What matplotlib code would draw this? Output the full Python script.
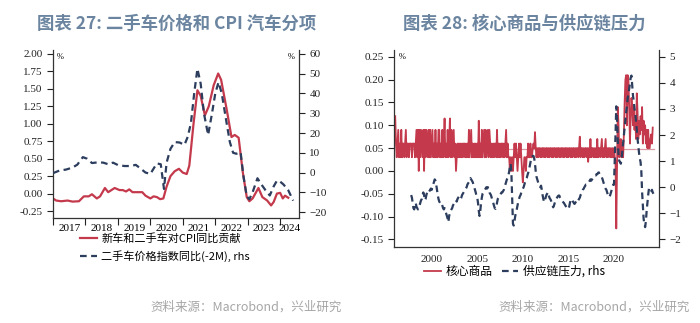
import numpy as np
import matplotlib
matplotlib.use('Agg')
import matplotlib.pyplot as plt
from matplotlib.ticker import FixedLocator, FixedFormatter, NullFormatter, FormatStrFormatter

# ---------------- chart 27 data ----------------
car_dates = [2017.0, 2017.1, 2017.25, 2017.45, 2017.6, 2017.8, 2017.95, 2018.1, 2018.2, 2018.35,
             2018.45, 2018.6, 2018.7, 2018.9, 2019.05, 2019.15, 2019.25, 2019.35, 2019.45, 2019.6,
             2019.75, 2019.85, 2020.0, 2020.1, 2020.2, 2020.3, 2020.4, 2020.5, 2020.62, 2020.75,
             2020.88, 2021.0, 2021.12, 2021.2, 2021.33, 2021.45, 2021.55, 2021.68, 2021.8, 2021.95,
             2022.09, 2022.18, 2022.35, 2022.5, 2022.6, 2022.72, 2022.85, 2022.97, 2023.05, 2023.15,
             2023.33, 2023.45, 2023.6, 2023.72, 2023.8, 2023.9, 2024.0, 2024.08, 2024.15, 2024.25]
car_cpi = [-0.07, -0.10, -0.11, -0.10, -0.115, -0.11, -0.04, -0.04, -0.01, -0.07,
           -0.04, 0.08, 0.02, 0.08, 0.05, 0.05, 0.03, 0.06, 0.02, 0.02,
           0.02, -0.03, -0.07, -0.04, -0.05, -0.08, -0.07, 0.10, 0.25, 0.32,
           0.355, 0.30, 0.28, 0.40, 1.00, 1.48, 1.40, 1.12, 1.25, 1.55,
           1.72, 1.63, 1.21, 0.81, 0.84, 0.80, 0.30, -0.05, -0.11, -0.07,
           0.08, -0.05, -0.10, -0.17, -0.12, 0.0, 0.01, -0.07, -0.03, -0.06]

used_dates = [2017.0, 2017.2, 2017.4, 2017.6, 2017.75, 2017.92, 2018.05, 2018.2, 2018.4, 2018.55,
              2018.7, 2018.85, 2019.0, 2019.2, 2019.4, 2019.55, 2019.7, 2019.85, 2020.0, 2020.1,
              2020.2, 2020.32, 2020.42, 2020.5, 2020.62, 2020.75, 2020.9, 2021.05, 2021.15, 2021.25,
              2021.35, 2021.45, 2021.55, 2021.65, 2021.78, 2021.9, 2022.0, 2022.1, 2022.2, 2022.35,
              2022.45, 2022.55, 2022.65, 2022.78, 2022.87, 2022.97, 2023.05, 2023.15, 2023.3, 2023.42,
              2023.55, 2023.68, 2023.8, 2023.9, 2024.0, 2024.1, 2024.25, 2024.4]
used_price = [-0.3, 1.0, 1.5, 2.5, 4.0, 7.8, 7.0, 4.8, 5.2, 5.0,
              4.2, 5.0, 3.8, 3.3, 3.3, 3.9, 2.0, 0.0, -0.7, 2.0,
              4.6, 4.2, -8.3, 5.0, 12.0, 15.4, 15.2, 14.0, 18.0, 25.0,
              40.0, 52.5, 45.0, 30.0, 19.0, 30.0, 40.0, 45.7, 40.0, 25.0,
              15.4, 10.0, 9.5, 10.3, -2.0, -12.0, -13.5, -10.0, -2.9, -6.0,
              -9.0, -11.6, -7.0, -4.1, -4.6, -6.0, -9.0, -14.2]

years_27 = [2017, 2018, 2019, 2020, 2021, 2022, 2023, 2024]

# ---------------- chart 28 data ----------------
core_start = 1996.0
core_goods = [
    0.12, 0.06, 0.03, 0.06, 0.09, 0.03, 0.06, 0.03, 0.09, 0.03, 0.06, 0.06,
    0.03, 0.06, 0.09, 0.03, 0.06, 0.06, 0.03, 0.06, 0.06, 0.06, 0.03, 0.06,
    0.06, 0.06, 0.03, 0.06, 0.09, 0.03, 0.09, 0.00, 0.09, 0.03, 0.09, 0.06,
    0.03, 0.09, 0.00, 0.09, 0.03, 0.09, 0.06, 0.03, 0.09, 0.03, 0.09, 0.03,
    0.06, 0.09, 0.03, 0.06, 0.03, 0.09, 0.03, 0.06, 0.03, 0.09, 0.09, 0.03,
    0.06, 0.03, 0.09, 0.03, 0.06, 0.115, 0.03, 0.06, 0.03, 0.09, 0.03, 0.06,
    0.115, 0.03, 0.09, 0.03, 0.06, 0.09, 0.03, 0.06, 0.00, 0.03, 0.06, 0.03,
    0.06, 0.03, 0.06, 0.03, 0.06, 0.03, 0.06, 0.06, 0.03, 0.06, 0.03, 0.06,
    0.03, 0.09, 0.03, 0.06, 0.09, 0.03, 0.06, 0.03, 0.06, 0.03, 0.06, 0.03,
    0.06, 0.03, 0.11, 0.03, 0.06, 0.03, 0.09, 0.03, 0.06, 0.09, 0.03, 0.09,
    0.03, 0.06, 0.09, 0.03, 0.09, 0.06, 0.03, 0.06, 0.03, 0.06, 0.03, 0.06,
    0.06, 0.03, 0.09, 0.03, 0.06, 0.03, 0.06, 0.03, 0.06, 0.06, 0.03, 0.06,
    0.03, 0.06, 0.09, 0.03, 0.06, 0.03, 0.03, 0.00, 0.03, 0.00, 0.03, 0.00,
    0.03, 0.06, 0.03, 0.06, 0.03, 0.00, 0.03, 0.06, 0.03, 0.06, 0.03, 0.00,
    -0.025, 0.00, 0.03, 0.03, 0.00, 0.03, 0.03, 0.06, 0.03, 0.03, 0.06, 0.03,
    0.03, 0.05, 0.06, 0.05, 0.085, 0.05, 0.03, 0.05, 0.03, 0.05, 0.05, 0.03,
    0.05, 0.03, 0.05, 0.05, 0.03, 0.05, 0.03, 0.05, 0.05, 0.03, 0.05, 0.03,
    0.05, 0.05, 0.03, 0.05, 0.03, 0.05, 0.05, 0.03, 0.05, 0.03, 0.05, 0.05,
    0.03, 0.05, 0.03, 0.05, 0.05, 0.03, 0.05, 0.03, 0.05, 0.05, 0.03, 0.05,
    0.03, 0.05, 0.05, 0.03, 0.05, 0.03, 0.05, 0.05, 0.03, 0.05, 0.03, 0.05,
    0.05, 0.03, 0.05, 0.075, 0.03, 0.05, 0.05, 0.03, 0.05, 0.03, 0.05, 0.05,
    0.03, 0.05, 0.02, 0.05, 0.03, 0.07, 0.03, 0.05, 0.05, 0.03, 0.05, 0.03,
    0.05, 0.03, 0.07, 0.03, 0.05, 0.05, 0.03, 0.05, 0.07, 0.03, 0.05, 0.03,
    0.05, 0.07, 0.03, 0.05, 0.03, 0.05, 0.05, 0.03, 0.05, 0.03, 0.05, 0.03,
    0.05, 0.03, 0.02, -0.126, 0.00, 0.14, 0.10, 0.03, 0.06, 0.07, 0.03, 0.06,
    0.03, 0.08, 0.15, 0.20, 0.21, 0.10, 0.21, 0.20, 0.14, 0.06, 0.12, 0.16,
    0.14, 0.10, 0.14, 0.09, 0.12, 0.07, 0.17, 0.13, 0.07, 0.11, 0.08, 0.12,
    0.09, 0.14, 0.06, 0.11, 0.08, 0.10, 0.06, 0.09, 0.05, 0.09, 0.05, 0.05,
    0.07, 0.08, 0.06, 0.095]
core_avg = 0.048

gscpi_start = 1997.75
gscpi = [
    -0.3, -0.4, -0.6,
    -0.8, -0.85, -0.7, -0.6, -0.75, -0.8, -0.85, -0.8, -0.7, -0.6, -0.5, -0.45,
    -0.3, -0.2, -0.3, -0.5, -0.45, -0.3, -0.2, -0.25, -0.2, -0.15, -0.1, -0.05,
    -0.1, 0.0, 0.1, 0.2, 0.3, 0.25, 0.1, -0.1, -0.3, -0.45, -0.55, -0.6,
    -0.57, -0.6, -0.7, -0.8, -0.85, -0.8, -0.9, -1.0, -1.1, -1.2, -1.34, -1.1,
    -1.0, -0.9, -0.85, -0.8, -0.7, -0.65, -0.6, -0.55, -0.5, -0.55, -0.45, -0.4,
    -0.35, -0.4, -0.45, -0.4, -0.3, -0.25, -0.2, -0.15, -0.1, -0.05, 0.0, 0.1,
    0.15, 0.2, 0.3, 0.35, 0.3, 0.25, 0.2, 0.1, 0.0, -0.1, -0.2, -0.35,
    -0.4, -0.6, -0.9, -1.1, -0.9, -0.6, -0.4, -0.25, -0.2, -0.15, -0.1, -0.05,
    0.0, -0.05, 0.0, -0.1, -0.2, -0.25, -0.3, -0.4, -0.5, -0.6, -0.7, -0.8,
    -0.83, -0.75, -0.6, -0.45, -0.4, -0.35, -0.3, -0.25, -0.2, -0.2, -0.15, -0.1,
    0.0, 0.1, 0.2, 0.3, 0.35, 0.45, 0.6, 0.8, 0.9, 0.5, -0.5, -1.4,
    -1.47, -1.3, -1.1, -0.96, -0.85, -0.7, -0.55, -0.45, -0.35, -0.3, -0.2, -0.1,
    -0.06, 0.0, 0.1, 0.2, 0.3, 0.35, 0.45, 0.55, 0.65, 0.8, 0.95, 1.1,
    1.15, 1.2, 1.2, 1.1, 0.9, 0.6, 0.4, 0.3, 0.2, 0.1, 0.06, 0.0,
    0.06, -0.1, -0.3, -0.45, -0.57, -0.5, -0.4, -0.3, -0.25, -0.19, -0.3, -0.4,
    -0.45, -0.5, -0.6, -0.7, -0.77, -0.7, -0.6, -0.5, -0.45, -0.4, -0.35, -0.32,
    -0.32, -0.4, -0.45, -0.5, -0.55, -0.57, -0.6, -0.65, -0.7, -0.75, -0.8, -0.83,
    -0.83, -0.75, -0.6, -0.5, -0.45, -0.5, -0.55, -0.6, -0.64, -0.6, -0.55, -0.5,
    -0.45, -0.5, -0.45, -0.4, -0.3, -0.25, -0.2, -0.1, -0.06, 0.0, 0.05, 0.1,
    0.1, 0.15, 0.19, 0.2, 0.25, 0.3, 0.25, 0.3, 0.32, 0.35, 0.4, 0.45,
    0.45, 0.5, 0.5, 0.55, 0.57, 0.5, 0.45, 0.4, 0.38, 0.3, 0.2, 0.1,
    0.0, -0.06, -0.1, -0.2, -0.3, -0.35, -0.38, -0.3, -0.2, -0.1, 0.0, 0.1,
    0.1, 1.0, 2.0, 3.1, 2.6, 1.8, 1.2, 1.0, 0.97, 0.9, 1.1, 1.4,
    1.72, 2.0, 2.3, 2.6, 2.87, 3.1, 3.4, 3.6, 3.77, 4.0, 4.2, 4.28,
    3.9, 3.51, 3.3, 3.0, 2.87, 2.5, 2.2, 1.85, 1.6, 1.3, 1.1, 0.96,
    0.6, -0.19, -0.7, -1.21, -1.4, -1.53, -1.3, -0.9, -0.6, -0.3, -0.06, -0.1,
    -0.19, -0.15, -0.1, -0.2, -0.25]

years_28 = [2000, 2005, 2010, 2015, 2020]

# ---------------- style ----------------
RED = '#c43a4c'
NAVY = '#2c3d5e'
AXC = '#333333'
TITLE_C = '#6b85a0'
CJK = ['Noto Sans CJK SC', 'DejaVu Sans']
plt.rcParams['font.family'] = ['Liberation Serif', 'Noto Sans CJK SC']
plt.rcParams['font.size'] = 8
DASH = (0, (3, 2))

W, H = 700, 323
fig = plt.figure(figsize=(7, 3.23), dpi=100)


def box(x0, y0, x1, y1):
    return [x0 / W, 1 - y1 / H, (x1 - x0) / W, (y1 - y0) / H]


def style_axes(ax, axr):
    for a in (ax, axr):
        a.spines['top'].set_visible(False)
        for s in ('left', 'right', 'bottom'):
            a.spines[s].set_color(AXC)
            a.spines[s].set_linewidth(0.9)
        a.tick_params(colors='#222222', labelsize=8, width=0.8, length=4)
    ax.spines['right'].set_visible(False)
    axr.spines['left'].set_visible(False)
    axr.spines['bottom'].set_visible(False)


# ---------------- chart 27 ----------------
ax1 = fig.add_axes(box(53, 50, 299, 218))
ax1r = ax1.twinx()
l1, = ax1.plot(car_dates, car_cpi, color=RED, lw=1.6)
l2, = ax1r.plot(used_dates, used_price, color=NAVY, lw=1.6, ls=DASH)
ax1.set_xlim(2017.0, 2024.58)
ax1.set_ylim(-0.35, 2.057)
ax1r.set_ylim(-23, 62)
ax1.set_yticks(np.arange(-0.25, 2.01, 0.25))
ax1.yaxis.set_major_formatter(FormatStrFormatter('%.2f'))
ax1r.set_yticks(np.arange(-20, 61, 10))
style_axes(ax1, ax1r)
ax1.xaxis.set_major_locator(FixedLocator(years_27))
ax1.xaxis.set_major_formatter(NullFormatter())
mids = [y + 0.5 for y in years_27[:-1]] + [(years_27[-1] + 2024.58) / 2]
ax1.xaxis.set_minor_locator(FixedLocator(mids))
ax1.xaxis.set_minor_formatter(FixedFormatter([str(y) for y in years_27]))
ax1.tick_params(axis='x', which='major', length=5)
ax1.tick_params(axis='x', which='minor', length=0, pad=4, labelsize=8)
ax1.text(0.028, 0.985, '%', transform=ax1.transAxes, fontsize=6, va='top', ha='center')
ax1r.text(0.967, 0.985, '%', transform=ax1r.transAxes, fontsize=6, va='top', ha='center')

fig.legend([l1, l2], ['新车和二手车对CPI同比贡献', '二手车价格指数同比(-2M), rhs'],
           loc='upper left', bbox_to_anchor=(80 / W, 1 - 233 / H), frameon=False,
           prop=dict(family=CJK, size=8), handlelength=1.5, handletextpad=0.4,
           labelspacing=0.55, borderpad=0, borderaxespad=0)

# ---------------- chart 28 ----------------
ax2 = fig.add_axes(box(394.3, 50, 659.3, 246.7))
ax2r = ax2.twinx()
core_dates = core_start + np.arange(len(core_goods)) / 12
gscpi_dates = gscpi_start + np.arange(len(gscpi)) / 12
ax2.axhline(core_avg, color='#d99aa3', lw=0.9, xmin=0.01, xmax=0.98)
l3, = ax2.plot(core_dates, core_goods, color=RED, lw=1.3)
l4, = ax2r.plot(gscpi_dates, gscpi, color=NAVY, lw=1.6, ls=DASH)
ax2.set_xlim(1995.9, 2024.97)
ax2.set_ylim(-0.166, 0.265)
ax2r.set_ylim(-2.28, 5.26)
ax2.set_yticks(np.arange(-0.15, 0.251, 0.05))
ax2.yaxis.set_major_formatter(FormatStrFormatter('%.2f'))
ax2r.set_yticks(np.arange(-2, 6, 1))
style_axes(ax2, ax2r)
ax2.set_xticks(years_28)
ax2.tick_params(axis='x', length=0, pad=6)
ax2.text(0.028, 0.985, '%', transform=ax2.transAxes, fontsize=6, va='top', ha='center')

fig.legend([l3, l4], ['核心商品', '供应链压力, rhs'], ncol=2,
           loc='upper left', bbox_to_anchor=(424 / W, 1 - 265 / H), frameon=False,
           prop=dict(family=CJK, size=8.5), handlelength=1.4, handletextpad=0.4,
           columnspacing=0.8, borderpad=0, borderaxespad=0)

# ---------------- titles and sources ----------------
fig.text(177 / W, 1 - 24 / H, '图表 27: 二手车价格和 CPI 汽车分项', ha='center', va='center',
         fontsize=12.5, fontweight='bold', color=TITLE_C, family=CJK)
fig.text(524 / W, 1 - 24 / H, '图表 28: 核心商品与供应链压力', ha='center', va='center',
         fontsize=12.5, fontweight='bold', color=TITLE_C, family=CJK)
fig.text(342 / W, 1 - 307 / H, '资料来源：Macrobond，兴业研究', ha='right', va='center',
         fontsize=9, color='#a6a6a6', family=CJK)
fig.text(690 / W, 1 - 307 / H, '资料来源：Macrobond，兴业研究', ha='right', va='center',
         fontsize=9, color='#a6a6a6', family=CJK)

fig.savefig('out.png', dpi=100)
